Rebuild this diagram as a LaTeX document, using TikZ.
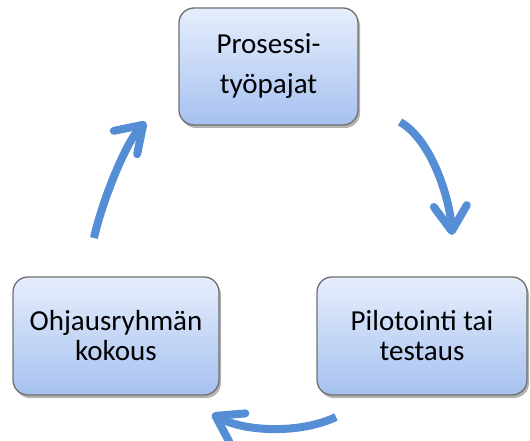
\documentclass[tikz,border=0pt]{standalone}
\usepackage{fontspec}
\setmainfont{Carlito}
\usetikzlibrary{arrows.meta,shadows}
\definecolor{arrowblue}{HTML}{558ED5}
\definecolor{boxtop}{HTML}{E6EEFC}
\definecolor{boxbottom}{HTML}{A6C1F0}
\definecolor{boxline}{HTML}{707070}
\tikzset{
  cyclebox/.style={draw=boxline, line width=1.3pt, rounded corners=15pt,
    top color=boxtop, bottom color=boxbottom, align=center,
    drop shadow={shadow xshift=2pt, shadow yshift=-3pt, opacity=0.3, fill=black},
    font=\fontsize{29}{30}\selectfont, text=black, inner sep=0pt},
  cyclearrow/.style={draw=arrowblue, line width=8pt,
    -{Straight Barb[round, length=25pt, width=33pt]}}
}
\begin{document}
\begin{tikzpicture}[x=1pt, y=-1pt]
\useasboundingbox (0,0) rectangle (530,441);
\node[cyclebox, minimum width=179pt, minimum height=117pt,
      font=\fontsize{29}{40}\selectfont] (top) at (268.5,66.5) {Prosessi-\\työpajat};
\node[cyclebox, minimum width=206pt, minimum height=118pt] (left) at (116,336) {Ohjausryhmän\\kokous};
\node[cyclebox, minimum width=210pt, minimum height=118pt] (right) at (422,336) {Pilotointi tai\\testaus};
\coordinate (a1s) at (94,238);
\coordinate (a1e) at (146,122);
\coordinate (a2s) at (400,122);
\coordinate (a2e) at (452,235);
\coordinate (a3s) at (336,417);
\coordinate (a3e) at (212,414);
\draw[cyclearrow] (a1s) .. controls (101,205) and (125,143) .. (a1e);
\draw[cyclearrow] (a2s) .. controls (432,140) and (450,200) .. (a2e);
\draw[cyclearrow] (a3s) .. controls (300,434) and (245,432) .. (a3e);
\end{tikzpicture}
\end{document}
